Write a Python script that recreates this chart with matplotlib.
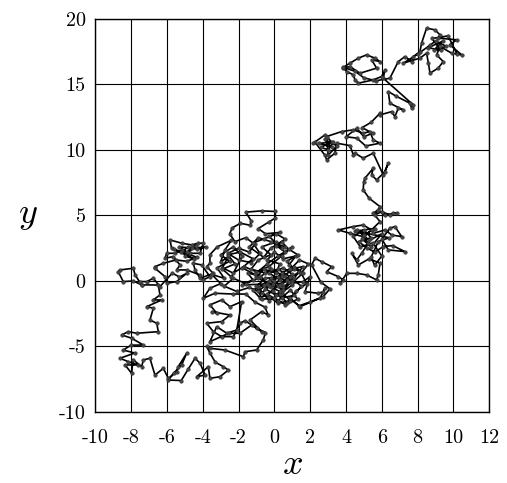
#! /usr/bin/env python3

import matplotlib
matplotlib.use("Agg")
import matplotlib.pyplot as plt

plt.rcParams["mathtext.fontset"] = "cm"
plt.rcParams["axes.unicode_minus"] = False

# random walk path (start near origin, end top right)
walk = [
    # around the origin
    (0, 0), (0.5, -0.5), (0.1, -1.1), (-0.5, -0.6), (-0.2, 0.2), (0.6, 0.4), (1.0, -0.3),
    (0.4, -0.9), (0.9, -1.5), (0.2, -1.7), (-0.3, -1.2), (-0.9, -0.8), (-0.4, -0.2),
    (-1.0, 0.3), (-0.6, 0.9), (0.1, 0.6), (0.3, 1.3), (-0.4, 1.6), (0.0, 2.2), (0.5, 1.7),
    (1.2, 1.9), (0.8, 1.2), (1.4, 0.7), (0.7, 0.1), (0.2, -0.4), (-0.6, -0.3), (-1.2, -0.7),
    (-0.8, -1.3), (-0.1, -0.8), (0.4, -1.3), (1.1, -1.1), (1.5, -0.4), (0.9, 0.3), (0.2, 0.9),
    (-0.5, 0.6), (-1.3, 0.9), (-0.9, 1.6), (-0.2, 2.0), (-0.7, 2.6), (0.1, 3.0), (0.4, 2.5),
    (-0.3, 3.4), (0.3, 3.7),
    # top centre
    (-0.5, 3.6), (-0.9, 4.0), (-0.3, 4.5), (0.05, 4.8), (0.05, 5.3), (-0.7, 5.35), (-1.6, 5.25),
    (-1.3, 4.6), (-1.35, 4.25), (-1.9, 4.4), (-2.35, 4.05), (-2.5, 3.6), (-2.2, 3.0),
    (-1.6, 3.3), (-1.1, 2.8), (-1.4, 2.2), (-2.0, 2.5), (-2.6, 2.1), (-2.0, 1.6), (-1.3, 1.4),
    (-0.8, 2.1), (-1.2, 2.9), (-0.6, 3.2), (0.1, 3.6), (0.6, 3.2), (0.1, 2.7), (0.6, 2.2),
    (1.0, 2.6), (0.4, 1.9),
    # towards the left cluster
    (-0.3, 1.1), (-1.0, 0.7), (-1.7, 1.1), (-2.3, 0.6), (-2.9, 1.0), (-2.6, 1.8), (-3.0, 1.47),
    (-2.76, 2.37), (-2.4, 3.1), (-3.2, 2.6), (-3.6, 2.0), (-3.6, 1.35), (-3.78, 1.09),
    (-3.41, 0.58), (-4.15, 0.2), (-4.43, 0.84), (-4.53, 1.35), (-4.06, 1.22), (-3.6, 0.33),
    (-3.97, 0.08), (-4.15, 0.46), (-4.9, 0.84), (-5.46, 0.84), (-5.27, 1.22), (-5.65, 1.86),
    (-6.11, 1.73), (-6.01, 2.11), (-5.55, 2.11), (-5.18, 2.37), (-4.71, 2.11), (-4.15, 2.11),
    (-3.97, 2.88), (-4.25, 2.88), (-4.62, 2.75), (-5.18, 2.88), (-5.83, 3.13), (-5.74, 2.5),
    (-5.2, 2.2), (-4.8, 2.6), (-4.3, 2.4), (-3.8, 2.6), (-4.6, 2.5), (-5.3, 2.6), (-4.9, 2.2),
    (-4.4, 2.7), (-5.0, 1.9), (-4.5, 1.7), (-5.6, 2.4), (-4.3, 1.8), (-4.9, 1.5), (-5.5, 1.6),
    (-6.2, 1.35), (-6.67, 1.09), (-6.67, 0.97), (-6.11, 0.33), (-6.01, -0.18), (-5.46, -0.05),
    (-4.9, 0.58), (-5.3, 0.3), (-5.7, 0.6), (-6.39, -0.43), (-6.76, 0.2), (-7.13, -0.05),
    (-7.5, -0.05), (-7.41, -0.31), (-7.78, 0.46), (-7.88, 0.97), (-8.62, 0.84), (-8.72, 0.71),
    (-8.44, -0.05), (-7.9, 0.0), (-7.4, -0.3), (-6.48, -0.31), (-6.39, -1.07), (-6.76, -1.45),
    (-6.29, -1.45), (-7.13, -1.96), (-6.76, -2.08), (-6.95, -2.98), (-6.57, -3.23),
    (-6.48, -3.87), (-7.69, -3.99), (-8.16, -3.87),
    # bottom left
    (-8.53, -4.12), (-7.97, -4.37), (-7.32, -4.89), (-8.0, -4.9), (-8.44, -5.27), (-7.8, -5.5),
    (-8.62, -5.9), (-8.16, -6.16), (-7.6, -6.41), (-8.34, -6.41), (-7.97, -7.05), (-7.9, -6.0),
    (-7.41, -6.54), (-7.32, -6.03), (-6.95, -5.9), (-6.67, -7.18), (-6.2, -6.67),
    (-5.92, -7.44), (-5.46, -6.93), (-5.37, -6.54), (-4.9, -5.52), (-5.18, -6.41), (-5.6, -7.0),
    (-5.92, -7.56), (-5.2, -7.6), (-4.8, -6.7), (-4.43, -5.9), (-4.15, -6.28), (-3.87, -7.18),
    (-4.34, -7.31), (-3.69, -6.54), (-3.6, -7.43), (-3.04, -7.31), (-2.57, -6.8),
    (-2.85, -6.54), (-3.3, -6.2), (-3.6, -5.5), (-3.78, -5.0),
    # back up below the centre
    (-3.6, -5.14), (-2.76, -5.27), (-1.73, -5.78), (-1.64, -5.4), (-0.99, -5.27),
    (-0.62, -4.5), (-0.5, -3.94), (-0.99, -3.61), (-1.64, -3.03), (-1.92, -3.23),
    (-2.29, -4.25), (-2.94, -4.25), (-3.41, -3.87), (-3.78, -3.23), (-2.94, -3.1), (-2.48, -2.6),
    (-3.5, -2.34), (-3.22, -2.46), (-3.6, -1.83), (-2.94, -1.45), (-2.48, -1.96), (-1.83, -1.58),
    (-2.1, -3.74), (-2.66, -3.99), (-3.22, -3.49), (-3.6, -4.63), (-2.56, -4.0), (-1.92, -3.99),
    (-1.27, -3.36), (-0.71, -3.87), (-1.36, -2.98), (-0.71, -2.34), (-0.34, -2.6), (-0.53, -2.0),
    (-1.1, -1.6), (-1.6, -1.0), (-2.3, -1.0), (-3.32, -0.94), (-3.97, -1.32), (-3.6, -0.56),
    (-3.0, -0.2), (-3.5, 0.5), (-2.8, 0.2), (-3.2, 1.0), (-2.5, 1.5), (-3.0, 2.0), (-2.3, 2.6),
    (-1.8, 1.9), (-2.4, 0.3),
    # dense wander through the centre
    (-2.9, 0.9), (-2.2, 1.3), (-2.6, 2.0), (-1.9, 2.2), (-1.2, 1.7), (-1.8, 1.0), (-1.1, 0.5),
    (-0.4, 1.3), (0.2, 1.9), (0.8, 2.4), (0.4, 3.0), (-0.2, 2.5), (-0.6, 1.8), (-1.4, 2.6),
    (-0.9, 3.3), (-0.2, 3.0), (0.6, 2.6), (1.3, 2.0), (0.7, 1.5), (1.1, 0.9), (0.5, 0.4),
    (-0.2, 0.9), (-0.9, 0.2), (-1.6, -0.2), (-2.3, 0.2), (-2.8, -0.4), (-2.1, -0.8),
    (-1.4, -0.5), (-0.7, -0.9), (-0.1, -0.2), (0.5, -0.7), (1.0, 0.0), (0.4, 0.4), (-0.3, 0.0),
    (-0.9, -0.5), (-0.3, -1.5), (0.3, -1.0), (0.7, -1.7), (1.2, -0.8), (1.8, -0.2),
    (1.5, 0.6), (1.9, 1.3), (1.4, 1.6), (0.9, 0.9), (1.6, 1.1), (1.1, 0.2), (0.4, -0.2),
    (-1.8, -0.3), (-1.2, 0.1), (-1.5, 0.6), (-0.8, 0.4), (-0.2, -0.5), (0.3, 0.1), (-0.3, 0.6),
    (0.5, 1.0), (1.0, 0.5), (0.3, -0.3), (-0.4, -1.0), (0.2, -1.5), (0.9, -0.7), (1.3, -1.4),
    (0.6, -1.8), (0.0, -1.3), (-0.7, -1.4), (-1.0, -0.4), (-0.5, 0.2), (0.2, 0.3), (0.8, -0.1),
    (0.3, -0.8), (-0.3, -0.4), (0.4, 0.6), (1.1, 1.1), (1.6, 0.6), (0.97, -0.18), (1.61, -0.05),
    (1.99, 0.33), (1.71, -0.82), (2.45, -0.94), (2.73, -0.82), (2.83, -0.56), (2.55, -1.32),
    (1.43, -1.96), (0.87, -1.32), (1.37, -1.9), (2.0, -1.6), (2.73, -1.2), (3.1, -0.6),
    (2.6, -0.1), (2.08, 1.22), (2.27, 1.73), (2.64, 1.47), (3.2, 1.09), (2.92, 0.71),
    (3.57, 0.33), (3.85, 0.08), (3.67, -0.18), (4.04, 0.58), (4.6, 0.58), (5.15, 0.46),
    (5.71, 0.08), (5.8, 0.46),
    # right cluster
    (5.9, 1.35), (5.3, 1.7), (4.69, 1.22), (4.32, 2.11), (4.6, 1.6), (4.87, 2.11), (5.24, 2.88),
    (4.96, 3.38), (4.22, 3.64), (3.57, 3.89), (4.41, 4.15), (4.96, 4.27), (5.43, 3.89),
    (5.52, 3.64), (6.18, 3.89), (6.55, 3.51), (7.11, 3.38), (6.73, 4.15), (6.45, 4.02),
    (6.0, 3.2), (6.36, 2.37), (7.29, 2.24), (6.6, 2.7), (6.08, 2.62), (5.6, 2.2), (5.2, 2.5),
    (4.7, 3.0), (5.4, 3.3), (5.0, 3.9), (4.4, 3.4), (4.8, 2.6), (5.5, 2.9), (6.0, 1.9),
    (5.6, 1.2), (5.4, 1.8), (5.8, 3.0), (6.4, 3.3), (4.5, 3.8), (5.6, 4.0), (5.0, 3.5),
    (4.6, 3.9), (5.3, 3.1), (6.0, 3.6), (5.4, 2.6), (4.9, 3.2), (5.9, 4.53), (5.52, 5.17),
    (5.8, 5.42), (6.2, 5.0), (6.64, 5.17), (6.83, 5.17), (6.45, 5.04), (5.99, 5.29),
    (5.62, 5.04), (5.9, 5.67),
    # climbing
    (5.3, 6.3), (4.96, 6.95), (4.99, 7.58), (5.06, 7.84), (5.52, 8.6), (5.43, 8.09), (5.71, 7.71),
    (6.18, 8.34), (6.36, 8.98), (6.08, 8.09), (5.52, 9.75), (4.96, 9.37), (4.5, 9.75),
    (4.41, 9.62), (4.22, 10.33), (3.48, 10.51), (3.38, 9.75), (2.92, 9.24), (2.82, 9.6),
    (2.27, 10.58), (2.17, 10.51), (2.83, 11.15), (3.2, 10.6), (2.6, 10.2), (3.0, 10.0),
    (3.3, 10.6), (2.5, 10.5), (3.2, 10.2), (2.8, 10.8), (3.5, 10.3), (3.0, 9.6),
    (2.92, 11.02), (3.76, 11.4), (4.41, 11.53), (4.96, 11.27), (5.34, 11.4),
    (5.52, 10.76), (5.9, 10.51), (5.1, 10.3), (4.6, 10.9), (4.0, 11.0), (4.6, 11.65),
    (5.0, 11.0), (5.48, 11.27), (4.9, 11.7),
    # top
    (5.4, 12.1), (5.9, 12.8), (5.9, 12.67), (6.55, 12.92), (6.73, 12.54), (6.92, 13.18),
    (7.2, 13.05), (6.45, 13.56), (6.36, 14.45), (6.8, 14.1), (7.57, 13.56), (7.67, 13.18),
    (7.76, 13.43), (6.08, 15.47), (6.18, 16.11), (5.99, 15.6), (5.52, 15.34), (4.69, 15.09),
    (4.5, 15.34), (4.41, 15.73), (4.04, 15.98), (3.85, 16.24), (4.22, 16.36), (4.78, 15.85),
    (5.71, 16.24), (5.43, 16.87), (5.9, 16.74), (5.62, 17.0), (5.15, 17.25), (4.69, 17.0),
    (4.2, 16.6), (3.85, 16.3), (4.5, 16.0), (5.0, 15.5), (5.67, 15.27), (6.45, 15.47),
    (6.92, 16.74), (7.29, 17.12), (7.67, 16.74), (7.76, 17.12), (8.13, 17.5), (8.22, 18.14),
    (8.5, 19.29), (8.97, 19.16), (9.25, 18.78), (9.15, 18.53), (10.18, 18.4), (9.8, 18.02),
    (10.46, 17.25), (9.9, 17.38), (9.25, 17.89), (9.06, 17.25), (9.43, 16.74), (9.15, 16.24),
    (8.69, 15.85), (8.6, 16.62), (8.5, 17.38), (8.13, 17.0), (7.2, 16.62), (8.0, 17.3),
    (8.7, 18.0), (9.0, 18.3), (9.6, 17.9), (8.9, 17.6), (9.4, 18.3), (8.6, 17.8),
    (9.3, 17.6), (8.8, 18.5), (9.7, 18.7), (10.2, 17.3),
]
walkX = [p[0] for p in walk]
walkY = [p[1] for p in walk]

xTicks = list(range(-10, 13, 2))
yTicks = list(range(-10, 21, 5))

fig = plt.figure(figsize=(5.07, 4.83), dpi=100)
ax = fig.add_axes([0.188, 0.147, 0.777, 0.814])

ax.plot(walkX, walkY, color="black", lw=1.2, marker="o", ms=2.6,
        mfc="#444444", mec="#222222", mew=0.3, zorder=3)

ax.set_xlim(-10, 12)
ax.set_ylim(-10, 20)
ax.set_xticks(xTicks)
ax.set_yticks(yTicks)
ax.set_xticklabels([str(t) for t in xTicks], fontname="cmr10", fontsize=14.5)
ax.set_yticklabels([str(t) for t in yTicks], fontname="cmr10", fontsize=14.5)
ax.tick_params(axis="x", length=0, pad=12)
ax.tick_params(axis="y", length=0, pad=7)
ax.grid(True, color="black", lw=0.8)
ax.set_axisbelow(True)
for s in ax.spines.values():
    s.set_linewidth(1.0)

ax.set_xlabel("$x$", fontsize=26, labelpad=0)
ax.set_ylabel("$y$", fontsize=26, rotation=0, labelpad=22, va="center")

fig.savefig("out.png", dpi=100)
